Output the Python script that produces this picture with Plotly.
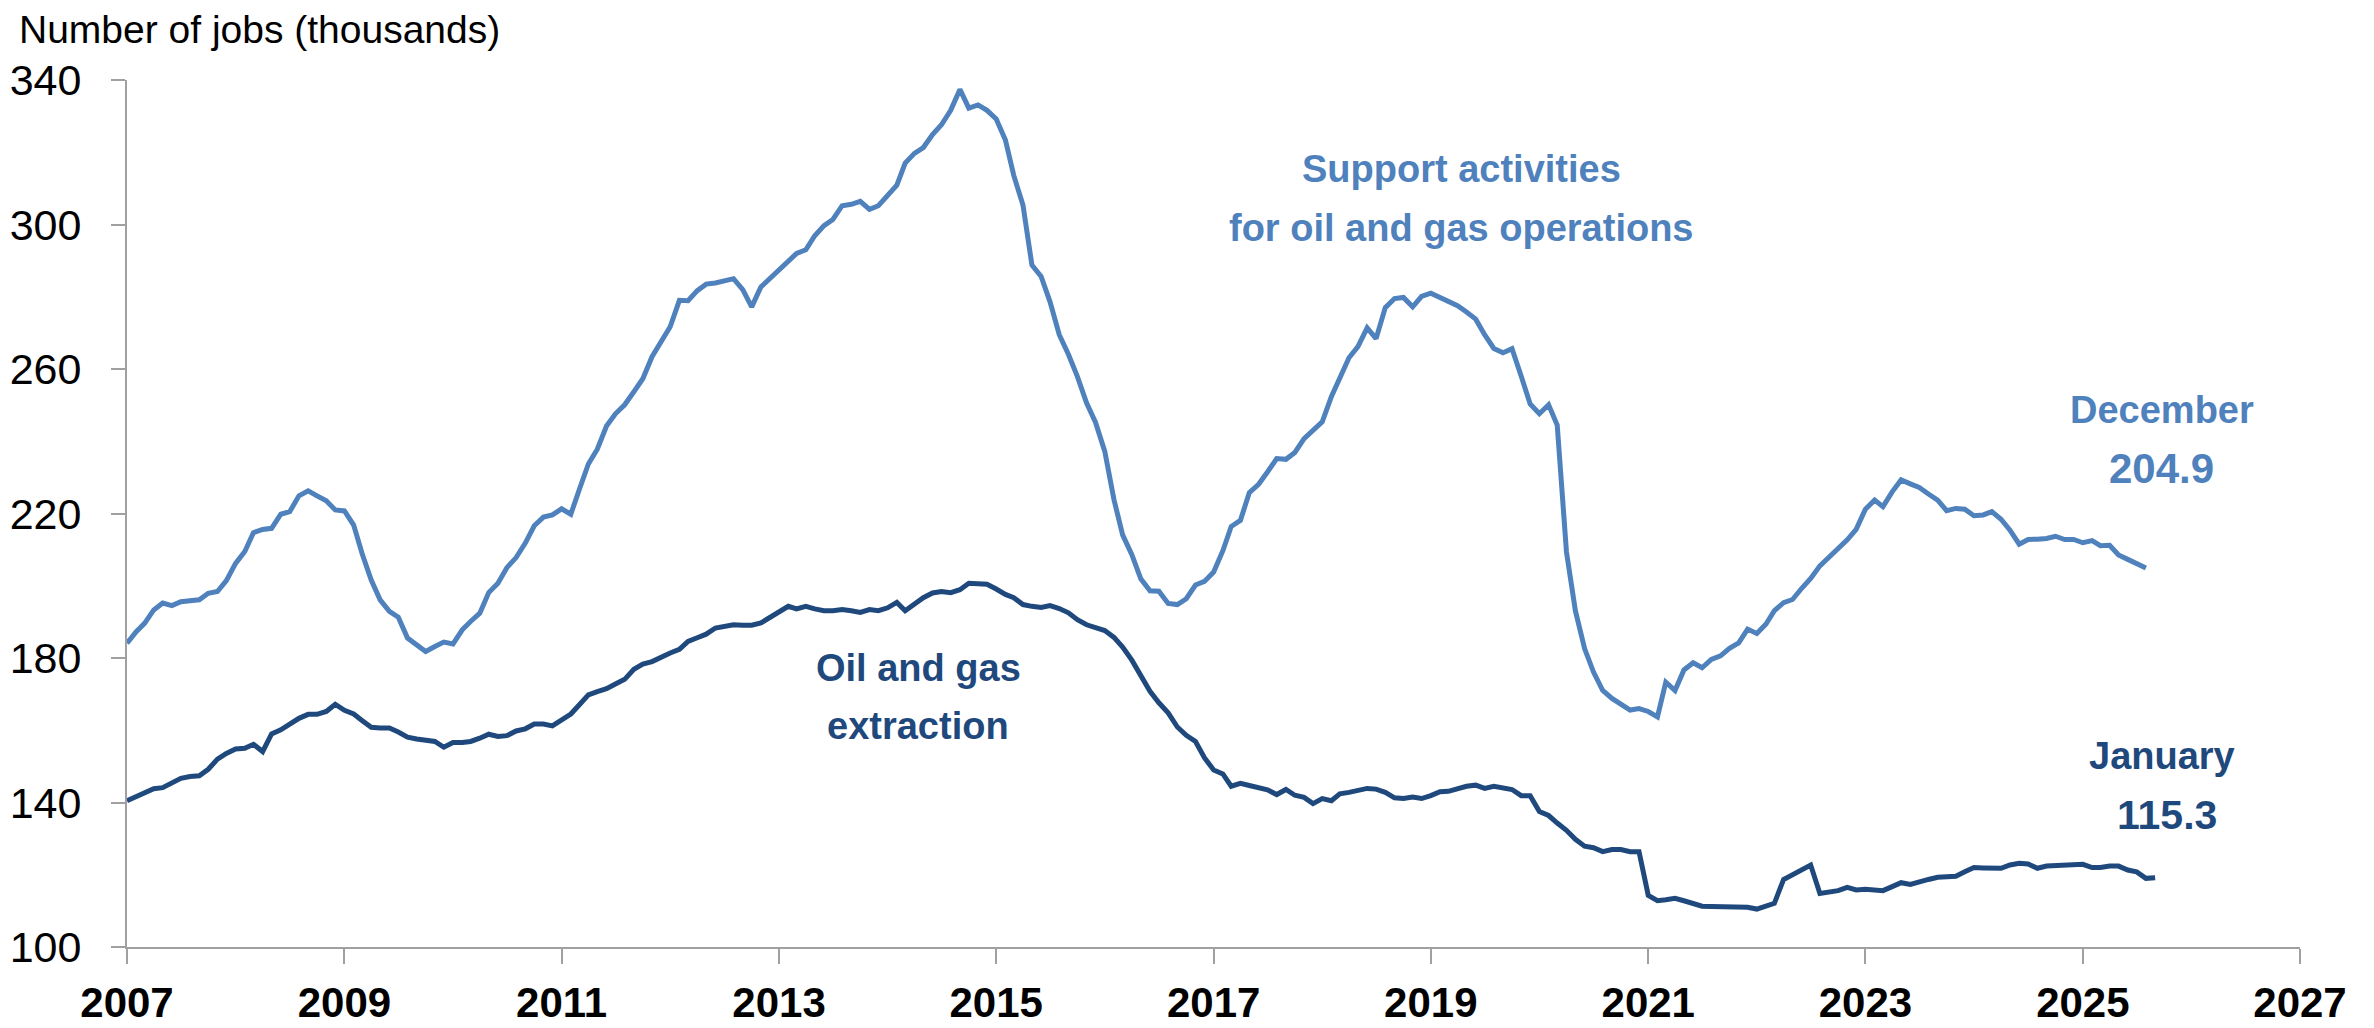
import pandas as pd
import plotly.graph_objects as go

# ---------------- data (thousands of jobs, monthly from Jan 2007) ----------------
start_month = "2007-01-01"

support_jobs = [
    184.1, 187.3, 189.6, 193.3, 195.2, 194.5, 195.6, 195.8, 196.1, 197.9, 198.4, 201.4,
    206.2, 209.5, 214.7, 215.6, 215.9, 219.8, 220.5, 224.9, 226.3, 224.9, 223.5, 221.0,
    220.7, 216.8, 209.0, 201.6, 196.1, 192.9, 191.3, 185.5, 183.6, 181.8, 183.2, 184.4,
    183.9, 187.8, 190.1, 192.4, 198.1, 200.7, 205.0, 207.8, 211.8, 216.6, 219.0, 219.6,
    221.3, 219.8, 226.5, 233.7, 237.8, 244.2, 247.6, 250.1, 253.7, 257.3, 263.4, 267.7,
    271.7, 279.0, 278.9, 281.7, 283.5, 283.8, 284.4, 285.0, 282.0, 277.2, 282.7, 285.0,
    287.2, 289.4, 292.0, 293.0, 296.9, 299.7, 301.4, 305.2, 305.6, 306.4, 304.2, 305.2,
    308.3, 310.9, 317.0, 319.7, 321.3, 324.9, 327.6, 331.6, 337.4, 332.2, 333.1, 331.6,
    329.2, 323.4, 313.6, 305.4, 288.8, 285.6, 278.6, 269.5, 264.0, 257.9, 250.6, 245.2,
    237.2, 223.8, 214.1, 208.6, 201.9, 198.6, 198.5, 195.1, 194.8, 196.4, 200.2, 201.2,
    203.8, 209.7, 216.4, 218.1, 225.8, 228.1, 231.5, 235.2, 235.0, 236.9, 240.7, 242.8,
    245.4, 252.4, 257.5, 263.1, 266.2, 271.4, 268.4, 277.0, 279.5, 279.8, 277.2, 280.1,
    281.0, 279.8, 278.9, 277.5, 275.8, 273.8, 269.5, 265.7, 264.5, 265.6, 258.0, 250.3,
    247.6, 250.1, 244.5, 209.4, 193.1, 182.6, 176.1, 171.0, 168.8, 167.4, 165.6, 166.0,
    165.2, 163.7, 173.3, 171.0, 176.7, 178.7, 177.3, 179.6, 180.6, 182.7, 184.2, 188.0,
    186.8, 189.4, 193.1, 195.3, 196.2, 199.3, 202.0, 205.5, 207.9, 210.1, 212.7, 215.6,
    221.2, 223.7, 221.9, 226.0, 229.3, 228.2, 227.2, 225.4, 223.7, 220.8, 221.4, 221.2,
    219.4, 219.6, 220.5, 218.4, 215.4, 211.5, 212.8, 212.9, 213.1, 213.7, 212.8, 212.8,
    211.9, 212.5, 211.1, 211.2, 208.5, 207.3, 206.0, 204.9,
]

extraction_jobs = [
    140.5, 141.6, 142.8, 143.8, 144.1, 145.3, 146.7, 147.2, 147.4, 149.2, 152.0, 153.6,
    154.8, 155.0, 156.1, 154.1, 159.0, 160.1, 161.7, 163.3, 164.4, 164.4, 165.2, 167.2,
    165.5, 164.5, 162.7, 160.8, 160.6, 160.6, 159.5, 158.1, 157.6, 157.3, 156.9, 155.3,
    156.6, 156.6, 156.9, 157.8, 158.9, 158.3, 158.5, 159.8, 160.4, 161.7, 161.7, 161.2,
    162.9, 164.5, 167.0, 169.8, 170.7, 171.5, 172.8, 174.1, 176.9, 178.3, 179.0, 180.3,
    181.4, 182.4, 184.6, 185.6, 186.6, 188.3, 188.7, 189.2, 189.1, 189.1, 189.7, 191.3,
    192.8, 194.3, 193.6, 194.3, 193.6, 193.1, 193.1, 193.4, 193.1, 192.6, 193.4, 193.1,
    193.9, 195.4, 193.1, 195.1, 196.7, 198.0, 198.4, 198.1, 198.9, 200.7, 200.7, 200.4,
    199.1, 197.6, 196.7, 194.8, 194.3, 194.0, 194.5, 193.7, 192.5, 190.6, 189.2, 188.3,
    187.6, 185.7, 183.0, 179.4, 175.3, 170.8, 167.6, 164.8, 160.9, 158.6, 156.9, 152.4,
    149.0, 147.9, 144.5, 145.3, 144.7, 144.1, 143.5, 142.2, 143.6, 142.0, 141.4, 139.7,
    141.1, 140.5, 142.4, 142.8, 143.3, 143.9, 143.7, 142.8, 141.3, 141.1, 141.5, 141.1,
    141.9, 143.0, 143.1, 143.9, 144.5, 144.8, 143.9, 144.5, 144.1, 143.6, 141.9, 141.9,
    137.5, 136.4, 134.3, 132.3, 129.8, 127.9, 127.5, 126.4, 127.0, 127.0, 126.4, 126.4,
    114.3, 112.8, 113.1, 113.5, 112.8, 112.1, 111.3, 111.2, 111.2, 111.1, 111.0, 111.0,
    110.5, 111.3, 112.1, 118.7, 119.9, 121.3, 122.7, 114.8, 115.1, 115.6, 116.5, 115.8,
    116.0, 115.8, 115.6, 116.7, 117.8, 117.3, 118.1, 118.7, 119.3, 119.6, 119.6, 120.8,
    122.0, 121.9, 122.0, 121.8, 122.7, 123.2, 123.0, 121.8, 122.4, 122.5, 122.7, 122.8,
    122.9, 122.0, 122.0, 122.4, 122.4, 121.3, 120.8, 119.0, 119.2,
]

year_ticks = [2007, 2009, 2011, 2013, 2015, 2017, 2019, 2021, 2023, 2025, 2027]
value_ticks = [100, 140, 180, 220, 260, 300, 340]

support_label = ["Support activities", "for oil and gas operations"]
extraction_label = ["Oil and gas", "extraction"]
support_end = ("December", "204.9")
extraction_end = ("January", "115.3")
y_title = "Number of jobs (thousands)"

# ---------------- styling ----------------
W, H = 2374, 1028
L, R, T, B = 127, 74, 80, 81
PW, PH = W - L - R, H - T - B

LIGHT = "#4F81BD"
DARK = "#1F497D"
AXIS = "#A0A0A0"
SANS = "Liberation Sans, Arial, sans-serif"


def px_x(X):
    return (X - L) / PW


def px_y(Y):
    return (H - B - Y) / PH


support_dates = pd.date_range(start_month, periods=len(support_jobs), freq="MS")
extraction_dates = pd.date_range(start_month, periods=len(extraction_jobs), freq="MS")

fig = go.Figure()
fig.add_trace(go.Scatter(x=support_dates, y=support_jobs, mode="lines",
                         line=dict(color=LIGHT, width=5), hoverinfo="skip"))
fig.add_trace(go.Scatter(x=extraction_dates, y=extraction_jobs, mode="lines",
                         line=dict(color=DARK, width=5), hoverinfo="skip"))

fig.update_layout(
    width=W, height=H,
    margin=dict(l=L, r=R, t=T, b=B, pad=0, autoexpand=False),
    paper_bgcolor="white", plot_bgcolor="white",
    showlegend=False,
)

fig.update_xaxes(
    type="date", automargin=False,
    range=[f"{year_ticks[0]}-01-01", f"{year_ticks[-1]}-01-01"],
    tickmode="array",
    tickvals=[f"{y}-01-01" for y in year_ticks],
    ticktext=[str(y) for y in year_ticks],
    showgrid=False, zeroline=False,
    showline=True, linecolor=AXIS, linewidth=2,
    ticks="outside", ticklen=15, tickwidth=2, tickcolor=AXIS,
    tickfont=dict(family=SANS, size=42, color="black", weight="bold"),
    ticklabelstandoff=3,
)
fig.update_yaxes(
    automargin=False,
    range=[value_ticks[0], value_ticks[-1]],
    tickmode="array", tickvals=value_ticks,
    showgrid=False, zeroline=False,
    showline=True, linecolor=AXIS, linewidth=2,
    ticks="outside", ticklen=14, tickwidth=2, tickcolor=AXIS,
    tickfont=dict(family=SANS, size=43, color="black"),
    ticklabelstandoff=21,
)


def label(text, X, Y, color, size, bold=True, anchor="center"):
    fig.add_annotation(
        text=text, xref="paper", yref="paper", x=px_x(X), y=px_y(Y),
        xanchor=anchor, yanchor="middle", showarrow=False,
        font=dict(family=SANS, size=size, color=color,
                  weight="bold" if bold else "normal"),
    )


# axis title
label(y_title, 17, 30, "black", 39, bold=False, anchor="left")

# series labels
label(support_label[0], 1461, 169, LIGHT, 38)
label(support_label[1], 1461, 228, LIGHT, 38)
label(extraction_label[0], 918, 668, DARK, 38)
label(extraction_label[1], 918, 726, DARK, 38)

# end labels
label(support_end[0], 2162, 410, LIGHT, 38)
label(support_end[1], 2161, 468, LIGHT, 42)
label(extraction_end[0], 2162, 756, DARK, 38)
label(extraction_end[1], 2167, 815, DARK, 41)

fig.write_html(
    "out.html",
    config={"displayModeBar": False},
    post_script="document.body.style.margin='0';document.body.style.overflow='hidden';",
)
